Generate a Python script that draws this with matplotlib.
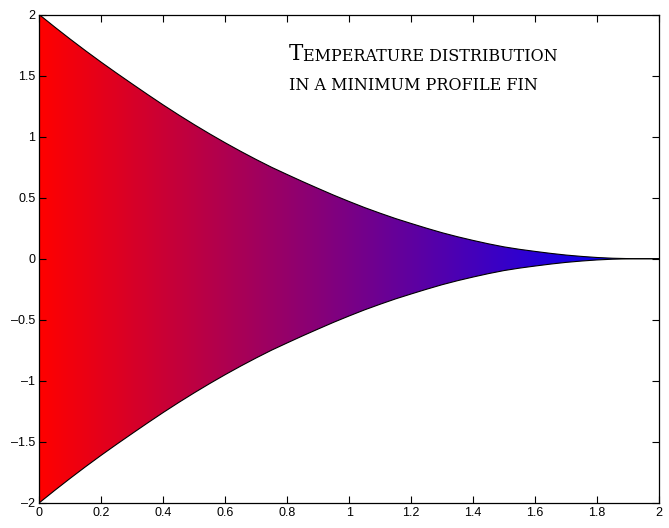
import numpy as np
import matplotlib.pyplot as plt
from matplotlib.colors import LinearSegmentedColormap

# half thickness of the fin (upper edge, lower is mirrored)
x_fin = [0.0, 0.05, 0.1, 0.15, 0.2, 0.25, 0.3, 0.35, 0.4, 0.45, 0.5,
         0.55, 0.6, 0.65, 0.7, 0.75, 0.8, 0.85, 0.9, 0.95, 1.0,
         1.05, 1.1, 1.15, 1.2, 1.25, 1.3, 1.35, 1.4, 1.45, 1.5,
         1.55, 1.6, 1.65, 1.7, 1.75, 1.8, 1.85, 1.9, 1.92, 2.0]
y_fin = [2.000, 1.898, 1.799, 1.703, 1.610, 1.520, 1.432, 1.345, 1.260, 1.178, 1.099,
         1.023, 0.950, 0.880, 0.813, 0.749, 0.690, 0.632, 0.576, 0.521, 0.469,
         0.419, 0.373, 0.329, 0.289, 0.250, 0.213, 0.180, 0.150, 0.122, 0.097,
         0.077, 0.060, 0.044, 0.030, 0.019, 0.010, 0.004, 0.001, 0.0, 0.0]
fin_tip = 1.92
xticks = [0, 0.2, 0.4, 0.6, 0.8, 1, 1.2, 1.4, 1.6, 1.8, 2]
yticks = [-2, -1.5, -1, -0.5, 0, 0.5, 1, 1.5, 2]

x = np.array(x_fin)
y = np.array(y_fin)

plt.rcParams["font.family"] = ["Liberation Sans", "DejaVu Sans"]
fig = plt.figure(figsize=(6.69, 5.28), dpi=100)
ax = fig.add_axes([0.059, 0.048, 0.926, 0.924])

# red -> blue temperature along the fin
cmap = LinearSegmentedColormap.from_list("temp", ["#ff0000", "#0000ff"])
grad = np.linspace(0, 1, 256).reshape(1, -1)
im = ax.imshow(grad, cmap=cmap, aspect="auto", extent=[0, fin_tip, -2, 2],
               interpolation="bilinear", zorder=1)
poly = ax.fill_between(x, -y, y, facecolor="none", edgecolor="none")
im.set_clip_path(poly.get_paths()[0], transform=ax.transData)

ax.plot(x, y, color="black", lw=0.8, zorder=3)
ax.plot(x, -y, color="black", lw=0.8, zorder=3)

ax.set_xlim(0, 2)
ax.set_ylim(-2, 2)
ax.set_xticks(xticks)
ax.set_yticks(yticks)
ax.set_xticklabels([f"{t:g}" for t in xticks])
ax.set_yticklabels([f"{t:g}".replace("-", "\u2013") for t in yticks])
ax.tick_params(direction="in", length=5, width=0.8, top=True, right=True,
               labelsize=9, pad=3)
for s in ax.spines.values():
    s.set_linewidth(0.9)

# small-caps style title
fam = ["DejaVu Serif"]
t1 = ax.text(0.805, 1.63, "T", fontsize=15.5, family=fam, va="baseline")
ax.annotate("EMPERATURE DISTRIBUTION", xy=(1, 0), xycoords=t1, fontsize=11.5,
            family=fam, va="bottom", ha="left")
ax.text(0.805, 1.385, "IN A MINIMUM PROFILE FIN", fontsize=11.5, family=fam,
        va="baseline")

fig.savefig("out.png", dpi=100)
